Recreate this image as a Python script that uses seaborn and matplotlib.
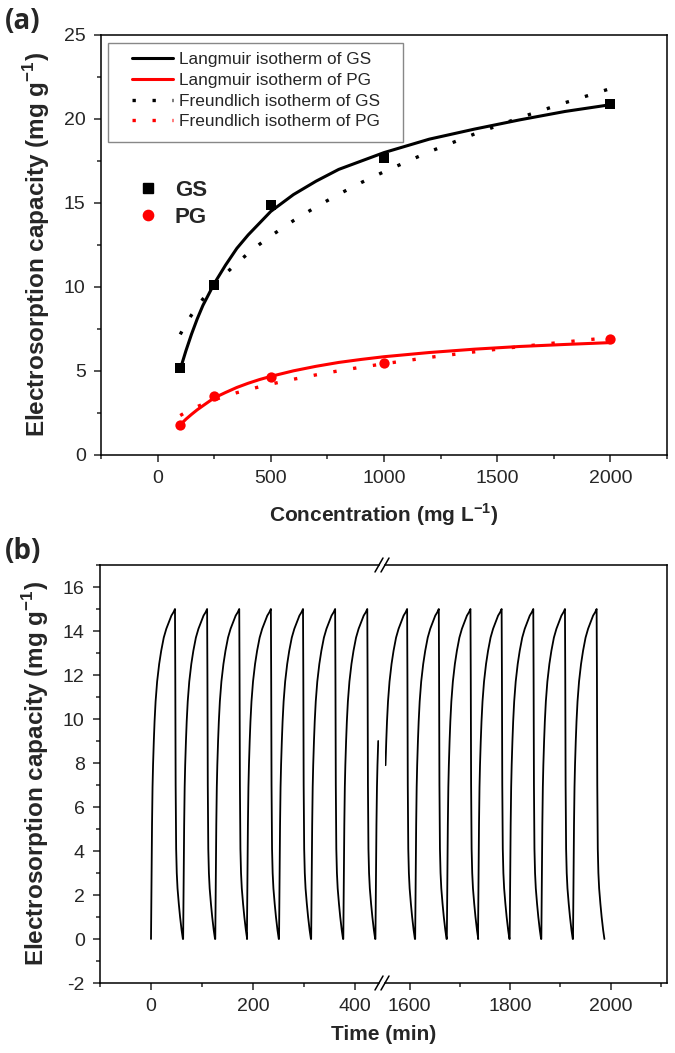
import numpy as np
import pandas as pd
import matplotlib
matplotlib.use("Agg")
import matplotlib.pyplot as plt
from matplotlib.ticker import MultipleLocator
from matplotlib.lines import Line2D
from matplotlib.patches import Rectangle
import seaborn as sns


############### data

# (a) measured electrosorption capacity vs. concentration
conc = [100, 250, 500, 1000, 2000]
gs_capacity = [5.15, 10.1, 14.9, 17.7, 20.9]
pg_capacity = [1.8, 3.5, 4.65, 5.45, 6.9]

# (a) fitted isotherm curves, sampled along the drawn lines
fit_conc = [100, 125, 150, 175, 200, 250, 300, 350, 400, 450, 500,
            600, 700, 800, 900, 1000, 1200, 1400, 1600, 1800, 2000]
langmuir_gs = [5.1, 6.2, 7.2, 8.1, 8.9, 10.2, 11.3, 12.3, 13.1, 13.8, 14.5,
               15.5, 16.3, 17.0, 17.5, 18.0, 18.8, 19.4, 19.95, 20.45, 20.85]
langmuir_pg = [1.8, 2.13, 2.42, 2.69, 2.93, 3.4, 3.72, 4.02, 4.27, 4.49, 4.68,
               5.01, 5.28, 5.51, 5.69, 5.85, 6.10, 6.30, 6.46, 6.58, 6.69]
freundlich_gs = [7.18, 7.8, 8.34, 8.83, 9.28, 10.09, 10.79, 11.42, 12.0, 12.54, 13.04,
                 13.95, 14.77, 15.52, 16.22, 16.86, 18.05, 19.11, 20.08, 20.97, 21.81]
freundlich_pg = [2.35, 2.55, 2.72, 2.88, 3.02, 3.28, 3.51, 3.71, 3.89, 4.06, 4.22,
                 4.51, 4.77, 5.01, 5.23, 5.43, 5.81, 6.14, 6.45, 6.73, 6.99]

# (b) one adsorption/desorption cycle (minutes from cycle start, mg/g)
cycle_offset = [0, 1, 2, 3, 4, 5.5, 7, 9, 12, 16, 20, 25, 30, 35, 40, 44, 47,
                47.6, 48.3, 49.3, 50.5, 52, 54.5, 57, 60, 62.5]
cycle_value = [0, 2.8, 5.2, 6.9, 7.9, 9.0, 9.9, 10.8, 11.7, 12.5, 13.1, 13.7, 14.1,
               14.4, 14.7, 14.85, 15.0, 12.0, 7.0, 4.1, 3.0, 2.3, 1.6, 1.0, 0.4, 0]
cycle_starts_left = [0, 63, 126, 188, 251, 314, 377, 440]
cycle_starts_right = [1548, 1611, 1674, 1736, 1799, 1862, 1925]
left_last_offset = 5.5     # record before the break stops here
right_first_offset = 4     # record after the break starts here

time_ticks_left = [0, 200, 400]
time_ticks_right = [1600, 1800, 2000]


############## helpers
W, H = 675, 1053


def fig_rect(x0, y0, x1, y1):
    """pixel box (top-left origin) -> figure fraction rect"""
    return [x0 / W, 1 - y1 / H, (x1 - x0) / W, (y1 - y0) / H]


def build_cycles(starts, first_from=None, last_to=None):
    t, q = [], []
    for i, s in enumerate(starts):
        for o, v in zip(cycle_offset, cycle_value):
            if i == 0 and first_from is not None and o < first_from:
                continue
            if i == len(starts) - 1 and last_to is not None and o > last_to:
                continue
            t.append(s + o)
            q.append(v)
    return pd.DataFrame({"time": t, "capacity": q})


def style_ticks(ax):
    ax.tick_params(which="major", direction="out", length=5, width=1.1,
                   labelsize=14, pad=6)
    ax.tick_params(which="minor", direction="out", length=3, width=1.1)
    ax.tick_params(top=False, right=False, which="both")
    for sp in ax.spines.values():
        sp.set_linewidth(1.1)
        sp.set_color("black")


sns.set_style("ticks")
plt.rcParams["font.family"] = ["Liberation Sans", "DejaVu Sans"]
plt.rcParams["mathtext.fontset"] = "custom"
plt.rcParams["mathtext.rm"] = "Liberation Sans"
plt.rcParams["mathtext.bf"] = "Liberation Sans:bold"
plt.rcParams["axes.unicode_minus"] = False

fig = plt.figure(figsize=(6.75, 10.53), dpi=100)

ylab = r"Electrosorption capacity (mg g$^{\mathregular{-1}}$)"
XLABEL_SIZE = 15
YLABEL_SIZE = 17.5

############## (a) isotherms
ax = fig.add_axes(fig_rect(101, 35, 667, 455))
iso = pd.DataFrame({"C": fit_conc, "lg": langmuir_gs, "lp": langmuir_pg,
                    "fg": freundlich_gs, "fp": freundlich_pg})
dots = (0, (1, 5))
sns.lineplot(data=iso, x="C", y="lg", ax=ax, color="black", lw=2.2)
sns.lineplot(data=iso, x="C", y="lp", ax=ax, color="red", lw=2.2)
sns.lineplot(data=iso, x="C", y="fg", ax=ax, color="black", lw=2.4, linestyle=dots)
sns.lineplot(data=iso, x="C", y="fp", ax=ax, color="red", lw=2.4, linestyle=dots)
pts = pd.DataFrame({"C": conc, "gs": gs_capacity, "pg": pg_capacity})
sns.scatterplot(data=pts, x="C", y="gs", ax=ax, color="black", marker="s",
                s=44, edgecolor="black", linewidth=0, zorder=5)
sns.scatterplot(data=pts, x="C", y="pg", ax=ax, color="red", marker="o",
                s=55, edgecolor="red", linewidth=0, zorder=5)

ax.set_xlim(-250, 2250)
ax.set_ylim(0, 25)
ax.xaxis.set_major_locator(MultipleLocator(500))
ax.xaxis.set_minor_locator(MultipleLocator(250))
ax.yaxis.set_major_locator(MultipleLocator(5))
ax.yaxis.set_minor_locator(MultipleLocator(2.5))
style_ticks(ax)
ax.set_xlabel(r"Concentration (mg L$^{\mathregular{-1}}$)", fontsize=XLABEL_SIZE,
              fontweight="bold", labelpad=10)
ax.set_ylabel(ylab, fontsize=YLABEL_SIZE, fontweight="bold")
ax.yaxis.set_label_coords(-0.086, 0.5)

fit_handles = [
    Line2D([], [], color="black", lw=2.2),
    Line2D([], [], color="red", lw=2.2),
    Line2D([], [], color="black", lw=2.4, linestyle=dots),
    Line2D([], [], color="red", lw=2.4, linestyle=dots),
]
fit_labels = ["Langmuir isotherm of GS", "Langmuir isotherm of PG",
              "Freundlich isotherm of GS", "Freundlich isotherm of PG"]
leg1 = ax.legend(fit_handles, fit_labels, loc="upper left",
                 bbox_to_anchor=(132 / W, 1 - 52 / H),
                 bbox_transform=fig.transFigure, borderaxespad=0, borderpad=0,
                 fontsize=12.4, handlelength=2.4, handletextpad=0.35,
                 labelspacing=0.33, frameon=False)
ax.add_artist(leg1)
# thin grey legend box
fig.add_artist(Rectangle((108 / W, 1 - 142 / H), 295 / W, 99 / H,
                         transform=fig.transFigure, fill=False,
                         edgecolor="#888888", lw=1.0))

pt_handles = [
    Line2D([], [], color="black", marker="s", ls="none", markersize=6.6),
    Line2D([], [], color="red", marker="o", ls="none", markersize=7.4),
]
leg2 = ax.legend(pt_handles, ["GS", "PG"], loc="upper left",
                 bbox_to_anchor=(138 / W, 1 - 180 / H),
                 bbox_transform=fig.transFigure, borderaxespad=0, borderpad=0,
                 frameon=False, prop={"size": 16, "weight": "bold"},
                 handlelength=0.9, handletextpad=0.75, labelspacing=0.28)

fig.text(5 / W, 1 - 7 / H, "(a)", fontsize=20, fontweight="bold",
         family=["Open Sans", "DejaVu Sans"], va="top", ha="left")

############## (b) cycling, broken time axis
ax1 = fig.add_axes(fig_rect(100, 565, 379, 983))
ax2 = fig.add_axes(fig_rect(385, 565, 667, 983))
left = build_cycles(cycle_starts_left, last_to=left_last_offset)
right = build_cycles(cycle_starts_right, first_from=right_first_offset)
sns.lineplot(data=left, x="time", y="capacity", ax=ax1, color="black",
             lw=1.3, sort=False, estimator=None)
sns.lineplot(data=right, x="time", y="capacity", ax=ax2, color="black",
             lw=1.3, sort=False, estimator=None)

ax1.set_xlim(-100, 447)
ax2.set_xlim(1551, 2112)
for a in (ax1, ax2):
    a.set_ylim(-2, 17)
    a.yaxis.set_major_locator(MultipleLocator(2))
    a.yaxis.set_minor_locator(MultipleLocator(1))
    a.xaxis.set_minor_locator(MultipleLocator(100))
    style_ticks(a)
    a.set_xlabel("")
    a.set_ylabel("")
ax1.set_xticks(time_ticks_left)
ax2.set_xticks(time_ticks_right)
ax1.spines["right"].set_visible(False)
ax2.spines["left"].set_visible(False)
ax2.tick_params(axis="y", which="both", left=False, labelleft=False)
ax1.set_ylabel(ylab, fontsize=YLABEL_SIZE, fontweight="bold")
ax1.yaxis.set_label_coords(-0.175, 0.5)
fig.text(383.5 / W, 1 - 1034 / H, "Time (min)", fontsize=XLABEL_SIZE,
         fontweight="bold", ha="center", va="center")

# break marks "//" on bottom and top spines
for yb in (983, 565):
    for xb in (379, 385):
        fig.add_artist(Line2D([(xb - 4) / W, (xb + 4) / W],
                              [1 - (yb + 7) / H, 1 - (yb - 7) / H],
                              color="black", lw=1.1))

fig.text(5 / W, 1 - 537 / H, "(b)", fontsize=20, fontweight="bold",
         family=["Open Sans", "DejaVu Sans"], va="top", ha="left")

fig.savefig("out.png", dpi=100, facecolor="white")
